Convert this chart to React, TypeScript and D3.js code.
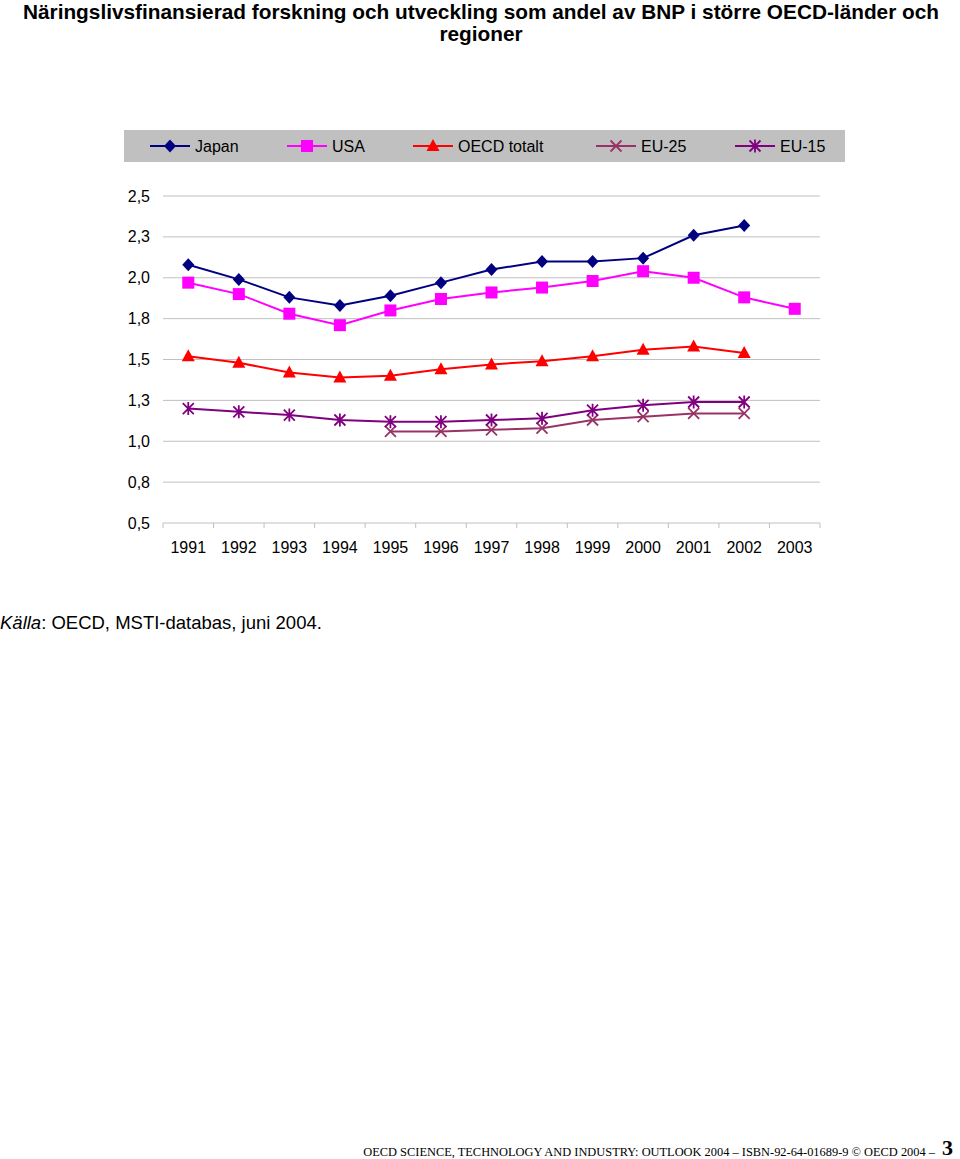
import React, { useEffect, useRef } from 'react';
import * as d3 from 'd3';

// years on the category axis
const years = ['1991', '1992', '1993', '1994', '1995', '1996', '1997', '1998', '1999', '2000', '2001', '2002', '2003'];

// values (share of GDP, %), null = no data
const japan = [2.08, 1.99, 1.88, 1.83, 1.89, 1.97, 2.05, 2.10, 2.10, 2.12, 2.26, 2.32, null];
const usa = [1.97, 1.90, 1.78, 1.71, 1.80, 1.87, 1.91, 1.94, 1.98, 2.04, 2.00, 1.88, 1.81];
const oecd = [1.52, 1.48, 1.42, 1.39, 1.40, 1.44, 1.47, 1.49, 1.52, 1.56, 1.58, 1.54, null];
const eu25 = [null, null, null, null, 1.06, 1.06, 1.07, 1.08, 1.13, 1.15, 1.17, 1.17, null];
const eu15 = [1.20, 1.18, 1.16, 1.13, 1.12, 1.12, 1.13, 1.14, 1.19, 1.22, 1.24, 1.24, null];

const yTicks = [0.5, 0.75, 1.0, 1.25, 1.5, 1.75, 2.0, 2.25, 2.5];
const yTickLabels = ['0,5', '0,8', '1,0', '1,3', '1,5', '1,8', '2,0', '2,3', '2,5'];

const series = [
  { name: 'Japan', values: japan, color: '#000080', marker: 'diamond' },
  { name: 'USA', values: usa, color: '#ff00ff', marker: 'square' },
  { name: 'OECD totalt', values: oecd, color: '#ff0000', marker: 'triangle' },
  { name: 'EU-25', values: eu25, color: '#993366', marker: 'x' },
  { name: 'EU-15', values: eu15, color: '#800080', marker: 'star' },
];

const legendX = [150, 287, 413, 596, 735];

const W = 960;
const H = 1159;
const plot = { left: 163, right: 820, top: 196, bottom: 523 };

function drawMarker(g, kind, cx, cy, color) {
  if (kind === 'diamond') {
    g.append('path')
      .attr('d', `M${cx},${cy - 6.5}L${cx + 6},${cy}L${cx},${cy + 6.5}L${cx - 6},${cy}Z`)
      .attr('fill', color);
  } else if (kind === 'square') {
    g.append('rect')
      .attr('x', cx - 6).attr('y', cy - 6)
      .attr('width', 12).attr('height', 12)
      .attr('fill', color);
  } else if (kind === 'triangle') {
    g.append('path')
      .attr('d', `M${cx},${cy - 7}L${cx + 6.5},${cy + 5}L${cx - 6.5},${cy + 5}Z`)
      .attr('fill', color);
  } else if (kind === 'x') {
    g.append('path')
      .attr('d', `M${cx - 5.5},${cy - 5.5}L${cx + 5.5},${cy + 5.5}M${cx - 5.5},${cy + 5.5}L${cx + 5.5},${cy - 5.5}`)
      .attr('stroke', color).attr('stroke-width', 1.8);
  } else if (kind === 'star') {
    g.append('path')
      .attr('d', `M${cx - 5.5},${cy - 5.5}L${cx + 5.5},${cy + 5.5}M${cx - 5.5},${cy + 5.5}L${cx + 5.5},${cy - 5.5}M${cx},${cy - 6.5}L${cx},${cy + 6.5}`)
      .attr('stroke', color).attr('stroke-width', 1.8);
  }
}

const App = () => {
  const svgRef = useRef(null);

  useEffect(() => {
    const svg = d3.select(svgRef.current);
    svg.selectAll('*').remove();

    const font = 'Arial, "Liberation Sans", sans-serif';

    // title
    const title = svg.append('text')
      .attr('text-anchor', 'middle')
      .attr('font-family', font)
      .attr('font-weight', 'bold')
      .attr('font-size', 20.8)
      .attr('fill', '#000');
    title.append('tspan').attr('x', 481).attr('y', 19)
      .text('Näringslivsfinansierad forskning och utveckling som andel av BNP i större OECD-länder och');
    title.append('tspan').attr('x', 481).attr('y', 41).text('regioner');

    // legend
    const legend = svg.append('g');
    legend.append('rect')
      .attr('x', 124).attr('y', 130)
      .attr('width', 721).attr('height', 32)
      .attr('fill', '#c0c0c0');
    series.forEach((s, i) => {
      const lx = legendX[i];
      legend.append('line')
        .attr('x1', lx).attr('x2', lx + 40)
        .attr('y1', 146).attr('y2', 146)
        .attr('stroke', s.color).attr('stroke-width', 2);
      drawMarker(legend, s.marker, lx + 20, 146, s.color);
      legend.append('text')
        .attr('x', lx + 45).attr('y', 152)
        .attr('font-family', font).attr('font-size', 16)
        .attr('fill', '#000')
        .text(s.name);
    });

    const x = d3.scaleBand().domain(years).range([plot.left, plot.right]);
    const y = d3.scaleLinear().domain([0.5, 2.5]).range([plot.bottom, plot.top]);
    const cx = (yr) => x(yr) + x.bandwidth() / 2;

    // gridlines and y labels
    yTicks.forEach((t, i) => {
      if (t > 0.5) {
        svg.append('line')
          .attr('x1', plot.left).attr('x2', plot.right)
          .attr('y1', y(t)).attr('y2', y(t))
          .attr('stroke', '#c0c0c0').attr('stroke-width', 1);
      }
      svg.append('text')
        .attr('x', 150).attr('y', y(t) + 5.5)
        .attr('text-anchor', 'end')
        .attr('font-family', font).attr('font-size', 16)
        .attr('fill', '#000')
        .text(yTickLabels[i]);
    });

    // x axis
    const xAxis = svg.append('g').attr('transform', `translate(0,${plot.bottom})`);
    xAxis.append('line')
      .attr('x1', plot.left).attr('x2', plot.right)
      .attr('y1', 0).attr('y2', 0)
      .attr('stroke', '#c0c0c0');
    const edges = years.map((yr) => x(yr)).concat([plot.right]);
    edges.forEach((ex) => {
      xAxis.append('line')
        .attr('x1', ex).attr('x2', ex)
        .attr('y1', 0).attr('y2', 5)
        .attr('stroke', '#c0c0c0');
    });
    years.forEach((yr) => {
      xAxis.append('text')
        .attr('x', cx(yr)).attr('y', 30)
        .attr('text-anchor', 'middle')
        .attr('font-family', font).attr('font-size', 16)
        .attr('fill', '#000')
        .text(yr);
    });

    // lines and markers (draw back to front)
    const order = [3, 4, 2, 1, 0];
    order.forEach((si) => {
      const s = series[si];
      const pts = years.map((yr, i) => ({ yr, v: s.values[i] })).filter((d) => d.v != null);
      const line = d3.line()
        .x((d) => cx(d.yr))
        .y((d) => y(d.v));
      svg.append('path')
        .datum(pts)
        .attr('fill', 'none')
        .attr('stroke', s.color)
        .attr('stroke-width', 2)
        .attr('d', line);
      const g = svg.append('g');
      pts.forEach((d) => drawMarker(g, s.marker, cx(d.yr), y(d.v), s.color));
    });

    // source
    const src = svg.append('text')
      .attr('x', 0).attr('y', 629)
      .attr('font-family', font).attr('font-size', 18.5)
      .attr('fill', '#000');
    src.append('tspan').attr('font-style', 'italic').text('Källa');
    src.append('tspan').text(': OECD, MSTI-databas, juni 2004.');

    // footer
    svg.append('text')
      .attr('x', 935).attr('y', 1156)
      .attr('text-anchor', 'end')
      .attr('font-family', '"Liberation Serif", "Times New Roman", serif')
      .attr('font-size', 12.4)
      .attr('fill', '#000')
      .text('OECD SCIENCE, TECHNOLOGY AND INDUSTRY: OUTLOOK 2004 – ISBN-92-64-01689-9 © OECD 2004 –');
    svg.append('text')
      .attr('x', 942).attr('y', 1155)
      .attr('font-family', '"Liberation Serif", "Times New Roman", serif')
      .attr('font-weight', 'bold')
      .attr('font-size', 22)
      .attr('fill', '#000')
      .text('3');
  }, []);

  return (
    <svg
      ref={svgRef}
      width={W}
      height={H}
      style={{ position: 'absolute', left: 0, top: 0, background: '#fff' }}
    />
  );
};

export default App;
